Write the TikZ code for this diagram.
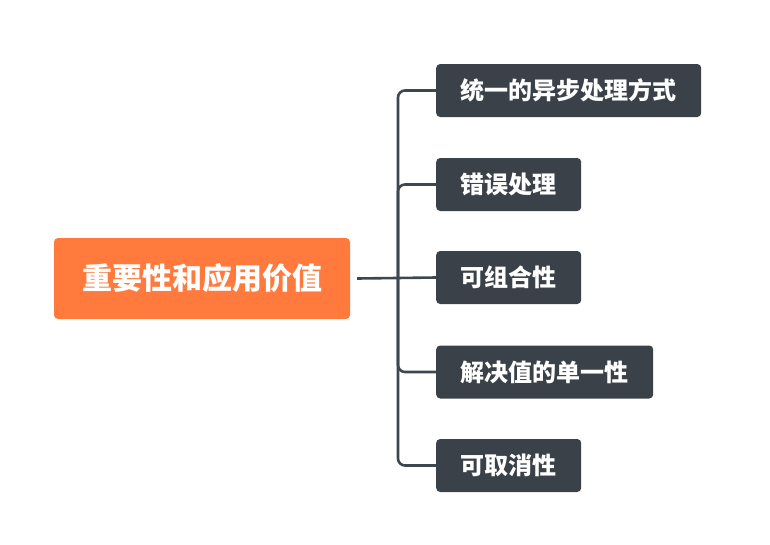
\documentclass[tikz,border=0pt]{standalone}
\usepackage{fontspec}
\newfontfamily\cjk{Noto Sans CJK SC}
\usepackage{xcolor}
\definecolor{rootorange}{RGB}{255, 122, 60}
\definecolor{leafdark}{RGB}{58, 65, 72}
\definecolor{linkdark}{RGB}{62, 70, 78}
\usetikzlibrary{positioning}

\begin{document}
\begin{tikzpicture}[
    x=1pt, y=-1pt,
    rootbox/.style={
        rectangle, fill=rootorange, rounded corners=4pt, text=white,
        minimum width=296pt, minimum height=81pt, inner xsep=0pt,
        font=\cjk\bfseries\fontsize{30}{34}\selectfont
    },
    leafbox/.style={
        rectangle, fill=leafdark, rounded corners=4pt, text=white, anchor=west,
        minimum height=53pt, inner xsep=24.5pt,
        font=\cjk\bfseries\fontsize{24}{28}\selectfont
    },
    link/.style={line width=2.6pt, color=linkdark, rounded corners=7pt}
]
\useasboundingbox (0,0) rectangle (770,544);

% Nodes
\node[rootbox] (root) at (202,278.5) {重要性和应用价值};
\node[leafbox] (async) at (436,90.5) {统一的异步处理方式};
\node[leafbox] (error) at (436,184.5) {错误处理};
\node[leafbox] (compose) at (436,277.5) {可组合性};
\node[leafbox] (single) at (436,372) {解决值的单一性};
\node[leafbox] (cancel) at (436,465.5) {可取消性};
\coordinate (trunk) at (398,278.5);

% Connections
\draw[link] ([xshift=7pt]root.east) -- (compose.west);
\draw[link] (trunk) |- (async.west);
\draw[link] (trunk) |- (error.west);
\draw[link] (trunk) |- (single.west);
\draw[link] (trunk) |- (cancel.west);

\end{tikzpicture}
\end{document}
